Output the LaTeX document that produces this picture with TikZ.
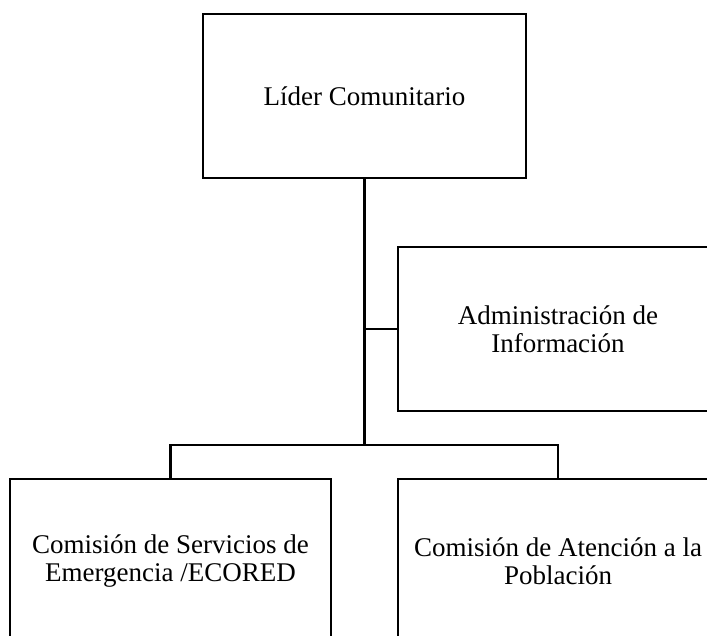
\documentclass[tikz,border=0pt]{standalone}
\usepackage{fontspec}
\setmainfont{Liberation Serif}
\tikzset{
  orgbox/.style={draw=black, line width=2pt, fill=white, inner sep=0pt,
    minimum width=#1, minimum height=164pt, align=center,
    font=\fontsize{27}{28}\selectfont},
  orgbox/.default=321pt,
  link/.style={draw=black, line width=2.2pt}
}
\begin{document}
\begin{tikzpicture}[x=1pt,y=-1pt]
\useasboundingbox (0,0) rectangle (707,636);
\clip (0,0) rectangle (707,636);
\fill[white] (0,0) rectangle (707,636);
\node[orgbox=323pt] (lider) at (364.5,96) {Líder Comunitario};
\node[orgbox=320pt] (admin) at (558,329) {Administración de\\Información};
\node[orgbox=321pt] (serv) at (170.5,561) {Comisión de Servicios de\\Emergencia /ECORED};
\node[orgbox=320pt] (aten) at (558,561) {Comisión de Atención a la\\Población};
\coordinate (bar) at (364.5,445);
\draw[link] (lider.south) -- (bar);
\draw[link] (admin.west) -- (admin.west -| lider.south);
\draw[link] (serv.north) |- (bar) -| (aten.north);
\end{tikzpicture}
\end{document}
